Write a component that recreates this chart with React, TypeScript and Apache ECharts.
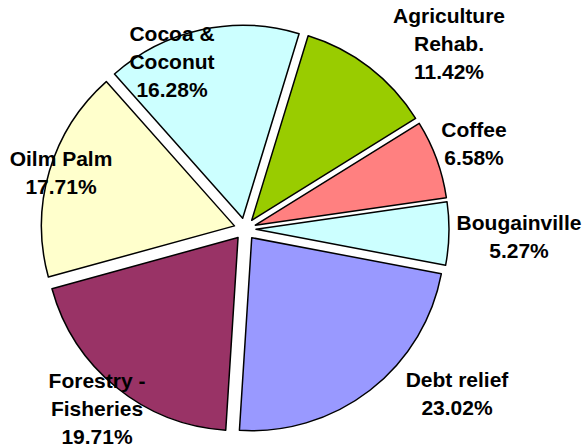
import React, { useEffect, useRef } from "react";
import * as echarts from "echarts";

const categories = [
  "Agriculture\nRehab.",
  "Coffee",
  "Bougainville",
  "Debt relief",
  "Forestry -\nFisheries",
  "Oilm Palm",
  "Cocoa &\nCoconut",
];
const shares = [11.42, 6.58, 5.27, 23.02, 19.71, 17.71, 16.28];
const colors = ["#99CC00", "#FF8080", "#CCFFFF", "#9999FF", "#993366", "#FFFFCC", "#CCFFFF"];
// label anchor (center of text block) positions in px
const labelAnchors: [number, number][] = [
  [449, 43],
  [474, 143],
  [519, 236],
  [457, 393],
  [97, 408],
  [61, 172],
  [172, 61],
];

export default function App() {
  const ref = useRef<HTMLDivElement>(null);
  useEffect(() => {
    if (!ref.current) return;
    const chart = echarts.init(ref.current, null, { renderer: "svg" });
    const common = {
      type: "pie",
      center: [245, 229],
      radius: 193,
      startAngle: 73,
      clockwise: true,
      avoidLabelOverlap: false,
      emphasis: { disabled: true },
    };
    chart.setOption({
      animation: false,
      backgroundColor: "#ffffff",
      series: [
        {
          ...common,
          z: 2,
          selectedMode: "multiple",
          selectedOffset: 11,
          itemStyle: { borderColor: "#000000", borderWidth: 1.5 },
          label: { show: false },
          labelLine: { show: false },
          data: categories.map((name, i) => ({
            name,
            value: shares[i],
            selected: true,
            itemStyle: { color: colors[i] },
          })),
        },
        {
          ...common,
          z: 3,
          silent: true,
          selectedMode: false,
          itemStyle: { color: "rgba(0,0,0,0)", borderWidth: 0 },
          label: {
            show: true,
            position: "inside",
            fontFamily: "Liberation Sans, Arial, sans-serif",
            fontWeight: "bold",
            fontSize: 21,
            lineHeight: 28,
            color: "#000000",
            align: "center",
            formatter: (p: any) => `${p.name}\n${Number(p.value).toFixed(2)}%`,
          },
          labelLine: { show: false },
          labelLayout: (params: any) => {
            const a = labelAnchors[params.dataIndex];
            return { x: a[0], y: a[1], align: "center", verticalAlign: "middle" };
          },
          data: categories.map((name, i) => ({ name, value: shares[i] })),
        },
      ],
    });
    return () => chart.dispose();
  }, []);
  return (
    <div
      ref={ref}
      style={{ position: "fixed", left: 0, top: 0, width: 586, height: 446 }}
    />
  );
}
